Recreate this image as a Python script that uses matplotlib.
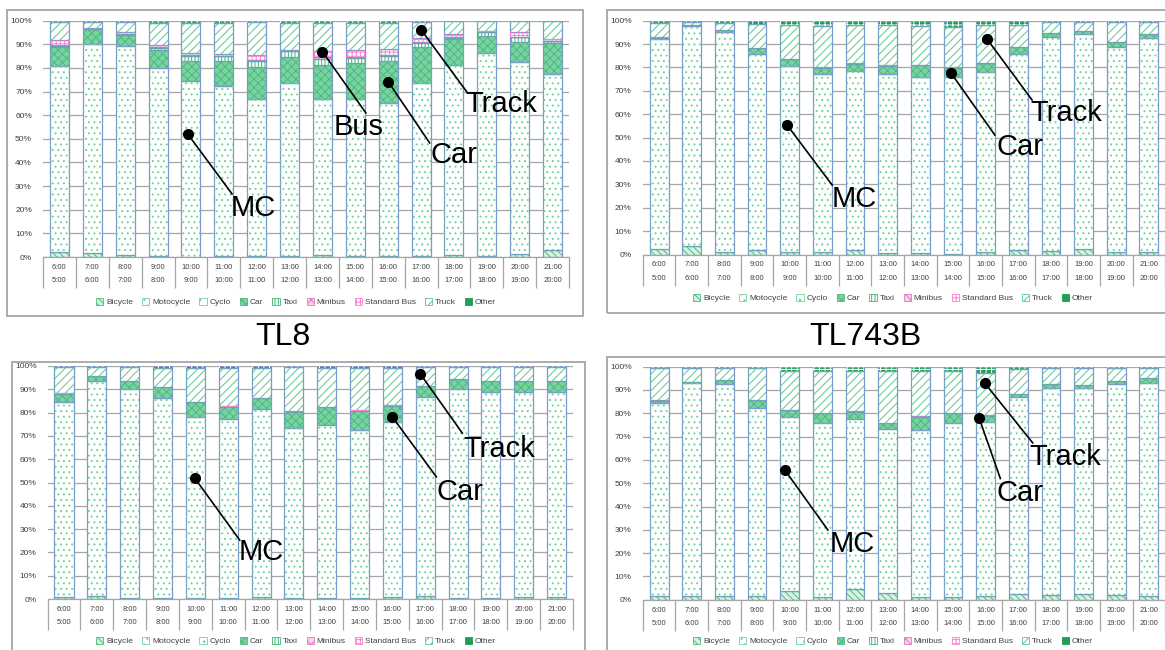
import matplotlib
matplotlib.use("Agg")
import matplotlib.pyplot as plt
from matplotlib.patches import Rectangle, Patch
from matplotlib.ticker import FuncFormatter
import numpy as np

plt.rcParams['font.family'] = ['Liberation Sans', 'DejaVu Sans']
plt.rcParams['hatch.linewidth'] = 0.7

# ---- categories -----------------------------------------------------------
hour_end = ["6:00", "7:00", "8:00", "9:00", "10:00", "11:00", "12:00", "13:00",
            "14:00", "15:00", "16:00", "17:00", "18:00", "19:00", "20:00", "21:00"]
hour_start = ["5:00", "6:00", "7:00", "8:00", "9:00", "10:00", "11:00", "12:00",
              "13:00", "14:00", "15:00", "16:00", "17:00", "18:00", "19:00", "20:00"]
vehicle_types = ["Bicycle", "Motocycle", "Cyclo", "Car", "Taxi", "Minibus",
                 "Standard Bus", "Truck", "Other"]
zeros16 = [0.0] * 16

# ---- TL8 (upper left), share in % -----------------------------------------
tl8_bicycle = [2.3, 1.5, 0.8, 0.3, 0.2, 0.5, 0.4, 0.4, 0.8, 0.5, 0.5, 0.5, 1.0, 0.3, 1.2, 2.8]
tl8_moto = [78.6, 88.6, 88.7, 79.6, 74.4, 71.8, 66.4, 73.4, 65.9, 66.3, 64.7, 73.3, 80.4, 86.2, 81.4, 74.5]
tl8_cyclo = zeros16
tl8_car = [8.0, 6.2, 4.5, 7.6, 8.2, 10.7, 13.6, 10.9, 14.7, 15.5, 17.6, 14.9, 10.7, 7.0, 8.3, 13.1]
tl8_taxi = [0.5, 0.2, 0.3, 0.9, 2.4, 2.0, 2.4, 2.4, 2.6, 2.0, 2.3, 2.0, 0.5, 1.8, 2.0, 1.0]
tl8_minibus = [0.3, 0.1, 0.2, 0.3, 0.2, 0.1, 0.4, 0.2, 0.5, 0.3, 0.3, 0.3, 0.3, 0.1, 0.2, 0.2]
tl8_bus = [2.2, 0.5, 0.8, 1.2, 0.9, 1.0, 2.3, 0.5, 2.6, 3.0, 2.8, 1.6, 1.5, 0.3, 2.0, 0.6]
tl8_truck = [7.4, 2.5, 4.0, 9.1, 12.8, 13.1, 13.8, 11.2, 12.0, 11.5, 10.9, 7.0, 5.4, 4.0, 4.7, 7.6]
tl8_other = [0.7, 0.4, 0.7, 1.0, 0.9, 0.8, 0.7, 1.0, 0.9, 0.9, 0.9, 0.4, 0.2, 0.3, 0.2, 0.2]

# ---- TL743B (upper right) -------------------------------------------------
tl743_bicycle = [2.5, 3.5, 1.2, 1.8, 1.0, 1.0, 2.0, 0.6, 0.8, 0.3, 1.0, 2.0, 1.3, 2.2, 1.0, 1.2]
tl743_moto = [89.5, 94.2, 94.1, 83.8, 79.6, 76.1, 76.4, 76.5, 75.2, 75.7, 76.9, 83.7, 91.8, 91.9, 87.9, 91.2]
tl743_cyclo = zeros16
tl743_car = [0.8, 0.3, 0.6, 2.6, 3.0, 2.8, 3.2, 3.7, 5.0, 3.9, 4.1, 3.2, 1.5, 1.5, 1.9, 1.7]
tl743_taxi = zeros16
tl743_minibus = zeros16
tl743_bus = [0.1, 0.0, 0.0, 0.2, 0.2, 0.1, 0.1, 0.1, 0.1, 0.1, 0.1, 0.0, 0.0, 0.0, 0.0, 0.0]
tl743_truck = [6.0, 1.5, 3.2, 10.0, 14.5, 17.7, 16.4, 17.2, 16.6, 17.4, 15.9, 9.2, 4.7, 3.7, 8.5, 5.2]
tl743_other = [1.1, 0.5, 0.9, 1.6, 1.7, 2.3, 1.9, 1.9, 2.3, 2.6, 2.0, 1.9, 0.7, 0.7, 0.7, 0.7]

# ---- lower left -----------------------------------------------------------
ll_bicycle = [1.0, 1.5, 0.5, 0.5, 0.3, 0.3, 1.0, 0.5, 0.5, 0.3, 1.0, 1.5, 0.5, 0.5, 1.0, 1.0]
ll_moto = [83.4, 92.2, 89.8, 85.9, 78.0, 76.8, 80.4, 73.1, 74.2, 72.3, 75.1, 85.1, 89.8, 88.5, 88.0, 87.7]
ll_cyclo = zeros16
ll_car = [3.6, 2.0, 3.4, 4.4, 6.1, 5.5, 4.7, 6.8, 7.6, 8.3, 6.9, 4.7, 4.1, 4.7, 4.7, 4.9]
ll_taxi = zeros16
ll_minibus = zeros16
ll_bus = [0.2, 0.0, 0.0, 0.0, 0.2, 0.3, 0.2, 0.2, 0.2, 0.2, 0.2, 0.2, 0.2, 0.0, 0.0, 0.0]
ll_truck = [11.2, 4.0, 6.0, 8.3, 14.5, 16.2, 12.8, 18.8, 16.8, 18.2, 16.1, 8.2, 5.1, 6.0, 6.0, 6.1]
ll_other = [0.6, 0.3, 0.3, 0.9, 0.9, 0.9, 0.9, 0.6, 0.7, 0.7, 0.7, 0.3, 0.3, 0.3, 0.3, 0.3]

# ---- lower right ----------------------------------------------------------
lr_bicycle = [1.8, 1.8, 1.5, 1.5, 3.8, 1.0, 4.5, 3.0, 1.0, 1.0, 1.5, 2.5, 2.0, 2.5, 2.0, 1.5]
lr_moto = [82.5, 91.1, 90.9, 80.6, 74.5, 75.0, 72.9, 70.3, 72.0, 75.0, 74.8, 84.7, 89.0, 88.5, 90.5, 91.5]
lr_cyclo = zeros16
lr_car = [1.1, 0.4, 1.9, 3.6, 3.1, 4.0, 3.3, 2.4, 5.5, 4.0, 2.7, 1.2, 1.5, 1.3, 1.2, 2.0]
lr_taxi = zeros16
lr_minibus = [0.3, 0.0, 0.0, 0.0, 0.0, 0.0, 0.0, 0.0, 0.0, 0.0, 0.0, 0.0, 0.0, 0.0, 0.0, 0.0]
lr_bus = [0.0, 0.0, 0.0, 0.0, 0.2, 0.2, 0.2, 0.2, 0.2, 0.2, 0.2, 0.0, 0.0, 0.0, 0.0, 0.0]
lr_truck = [13.9, 6.3, 5.3, 13.6, 16.7, 18.1, 17.4, 22.4, 19.6, 18.1, 18.3, 10.6, 6.9, 7.1, 5.7, 4.4]
lr_other = [0.4, 0.4, 0.4, 0.7, 1.7, 1.7, 1.7, 1.7, 1.7, 1.7, 2.5, 1.0, 0.6, 0.6, 0.6, 0.6]

# ---- look of each vehicle type: face colour, hatch, hatch colour -----------
EDGE = "#7A9CCB"
styles = {
    "Bicycle":      ("#d9f2e4", "\\\\\\\\\\", "#4dbb7f"),
    "Motocycle":    ("#ffffff", "...", "#6fd49a"),
    "Cyclo":        ("#ffffff", "..", "#6fd49a"),
    "Car":          ("#78d3a0", "xxxx", "#4fb880"),
    "Taxi":         ("#ffffff", "|||||", "#3fb673"),
    "Minibus":      ("#f7d4ec", "xxx", "#e377c2"),
    "Standard Bus": ("#ffffff", "++++", "#ff7fd4"),
    "Truck":        ("#ffffff", "////", "#5cc68d"),
    "Other":        ("#1f9e55", "+++", "#ffffff"),
}

W, H = 1165, 650
fig = plt.figure(figsize=(W / 100, H / 100), dpi=100)


def fig_rect(x0, y0, x1, y1):
    """Pixel box (top-left origin) -> figure fraction [l, b, w, h]."""
    return [x0 / W, 1 - y1 / H, (x1 - x0) / W, (y1 - y0) / H]


def draw_panel(rect, series, legend_xy):
    ax = fig.add_axes(fig_rect(*rect))
    x = np.arange(len(hour_end))
    bottom = np.zeros(len(x))
    for name, vals in zip(vehicle_types, series):
        v = np.asarray(vals, dtype=float)
        face, hatch, hcol = styles[name]
        lw = np.where(v > 0, 0.9, 0.0)
        ax.bar(x, v, 0.58, bottom=bottom, color=face, edgecolor=EDGE,
               linewidth=lw, zorder=2)
        ax.bar(x, v, 0.58, bottom=bottom, color="none", edgecolor=hcol,
               hatch=hatch, linewidth=0, zorder=3)
        bottom += v

    ax.set_xlim(-0.5, len(x) - 0.5)
    ax.set_ylim(0, 100)
    ax.set_yticks(np.arange(0, 101, 10))
    ax.yaxis.set_major_formatter(FuncFormatter(lambda v, p: f"{v:.0f}%"))
    ax.grid(axis="y", color="#A6A6A6", linewidth=0.9)
    ax.set_axisbelow(True)
    for s in ("top", "right", "left"):
        ax.spines[s].set_visible(False)
    ax.spines["bottom"].set_color("#A6A6A6")
    ax.spines["bottom"].set_linewidth(0.9)
    ax.tick_params(axis="y", length=0, labelsize=6, labelcolor="#404040", pad=8)

    ax.set_xticks(x)
    ax.set_xticklabels([f"{a}\n{b}" for a, b in zip(hour_end, hour_start)],
                       fontsize=5.5, color="#404040", linespacing=2.3)
    ax.set_xticks(np.arange(-0.5, len(x), 1), minor=True)
    ax.tick_params(axis="x", which="major", length=0, pad=5)
    ax.tick_params(axis="x", which="minor", length=22, color="#A6A6A6", width=0.9)

    handles = []
    for name in vehicle_types:
        face, hatch, hcol = styles[name]
        handles.append(Patch(facecolor=face, edgecolor=hcol if name != "Other" else "#1f9e55",
                             hatch=hatch, linewidth=0.6, label=name))
    ax.legend(handles=handles, ncol=9, loc="center",
              bbox_to_anchor=(legend_xy[0] / W, 1 - legend_xy[1] / H),
              bbox_transform=fig.transFigure, frameon=False, fontsize=6,
              handlelength=0.9, handleheight=0.9, handletextpad=0.3,
              columnspacing=1.1, labelcolor="#404040")
    return ax


def callout(ax, label, dot, end, text_xy):
    ax.plot([dot[0], end[0]], [dot[1], end[1]], color="black", lw=1.2,
            zorder=6, clip_on=False)
    ax.plot([dot[0]], [dot[1]], "o", color="black", ms=7, zorder=7, clip_on=False)
    ax.text(text_xy[0], text_xy[1], label, fontsize=21, ha="center",
            va="center", zorder=7)


def frame(x0, y0, x1, y1):
    fig.add_artist(Rectangle((x0 / W, 1 - y1 / H), (x1 - x0) / W, (y1 - y0) / H,
                             transform=fig.transFigure, fill=False,
                             edgecolor="#A6A6A6", linewidth=1.3))


frame(7, 10, 583, 316)
frame(607, 10, 1175, 313)
frame(12, 362, 585, 660)
frame(607, 357, 1175, 660)

ax_a = draw_panel((43, 20.7, 569, 257),
                  [tl8_bicycle, tl8_moto, tl8_cyclo, tl8_car, tl8_taxi,
                   tl8_minibus, tl8_bus, tl8_truck, tl8_other], (296, 302))
ax_b = draw_panel((642.7, 20.7, 1165.3, 254.5),
                  [tl743_bicycle, tl743_moto, tl743_cyclo, tl743_car, tl743_taxi,
                   tl743_minibus, tl743_bus, tl743_truck, tl743_other], (893, 298))
ax_c = draw_panel((47.6, 366, 573, 599),
                  [ll_bicycle, ll_moto, ll_cyclo, ll_car, ll_taxi,
                   ll_minibus, ll_bus, ll_truck, ll_other], (296, 641))
ax_d = draw_panel((642.7, 366.7, 1165.3, 599.7),
                  [lr_bicycle, lr_moto, lr_cyclo, lr_car, lr_taxi,
                   lr_minibus, lr_bus, lr_truck, lr_other], (893, 641))

callout(ax_a, "MC", (3.9, 52.1), (5.25, 26.7), (5.9, 20.8))
callout(ax_a, "Bus", (8.0, 86.9), (9.32, 61.0), (9.1, 55.0))
callout(ax_a, "Car", (10.0, 74.2), (11.26, 48.3), (12.0, 43.2))
callout(ax_a, "Track", (11.0, 96.2), (12.39, 69.9), (13.45, 64.8))

callout(ax_b, "MC", (3.92, 55.4), (5.3, 29.7), (5.97, 23.7))
callout(ax_b, "Car", (8.94, 77.6), (10.28, 51.1), (11.05, 46.0))
callout(ax_b, "Track", (10.04, 92.2), (11.42, 66.1), (12.46, 60.5))

callout(ax_c, "MC", (3.98, 51.9), (5.35, 25.3), (6.02, 20.2))
callout(ax_c, "Car", (10.0, 78.1), (11.34, 52.4), (12.07, 45.9))
callout(ax_c, "Track", (10.85, 96.6), (12.13, 71.2), (13.25, 64.4))

callout(ax_d, "MC", (3.85, 55.7), (5.17, 29.9), (5.93, 23.9))
callout(ax_d, "Car", (9.8, 78.0), (10.45, 52.0), (11.05, 46.0))
callout(ax_d, "Track", (9.97, 93.0), (11.44, 67.3), (12.45, 61.2))

fig.text(283 / W, 1 - 337 / H, "TL8", fontsize=23, ha="center", va="center")
fig.text(865 / W, 1 - 337 / H, "TL743B", fontsize=23, ha="center", va="center")

fig.savefig("out.png", dpi=100, facecolor="white")
